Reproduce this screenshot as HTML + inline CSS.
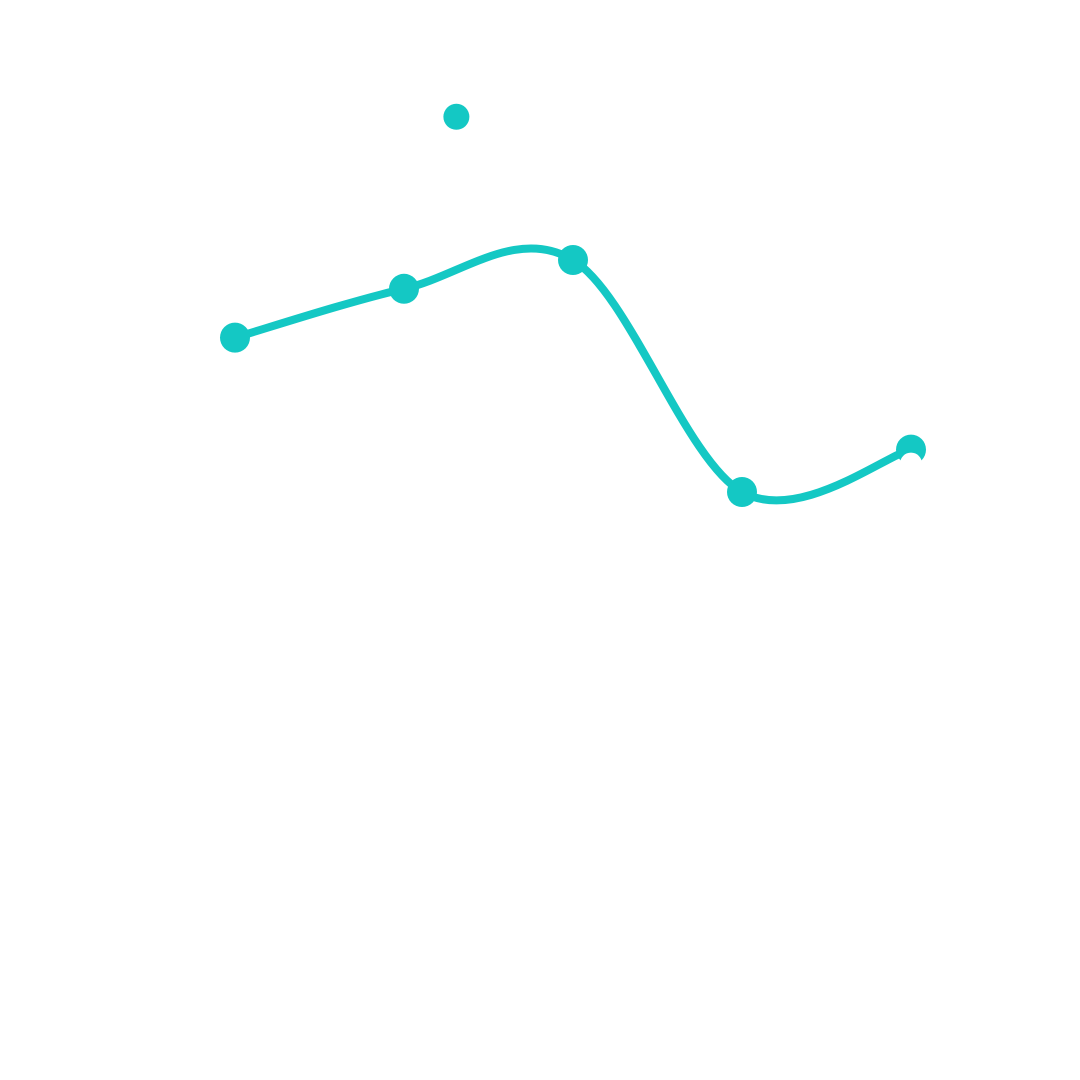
<!DOCTYPE html>
<html><head><meta charset="utf-8"><style>html,body{margin:0;padding:0;background:#fff}svg{display:block}</style></head>
<body>
<svg id="chart" width="1080" height="1080" viewBox="0 0 1080 1080" xmlns="http://www.w3.org/2000/svg">
<g id="plot"></g>
</svg>
<script>
const categories = ["A", "B", "C", "D", "E"];
const seriesValues = [87.8, 93.9, 97.5, 68.5, 73.8];
const outlierValues = [115.4];
const outlierPositions = [1.31];

function xScale(i) { return 235 + i * 169; }
function yScale(v) { return 1040 - v * 8; }

const ns = "http://www.w3.org/2000/svg";
const g = document.getElementById("plot");
const pts = seriesValues.map((v, i) => [xScale(i), yScale(v)]);

let d = "M" + pts[0][0] + "," + pts[0][1];
for (let i = 0; i < pts.length - 1; i++) {
  const p0 = pts[i - 1] || pts[i], p1 = pts[i], p2 = pts[i + 1], p3 = pts[i + 2] || pts[i + 1];
  const c1x = p1[0] + (p2[0] - p0[0]) / 6, c1y = p1[1] + (p2[1] - p0[1]) / 6;
  const c2x = p2[0] - (p3[0] - p1[0]) / 6, c2y = p2[1] - (p3[1] - p1[1]) / 6;
  d += " C" + c1x + "," + c1y + " " + c2x + "," + c2y + " " + p2[0] + "," + p2[1];
}
const path = document.createElementNS(ns, "path");


path.setAttribute("d", d);
path.setAttribute("fill", "none");
path.setAttribute("stroke", "#14c8c4");
path.setAttribute("stroke-width", "8");
g.appendChild(path);

pts.forEach((p, i) => {
  const c = document.createElementNS(ns, "circle");
  
  
  c.setAttribute("cx", p[0]); c.setAttribute("cy", p[1]); c.setAttribute("r", 15);
  c.setAttribute("fill", "#14c8c4");
  g.appendChild(c);
});

outlierValues.forEach((v, i) => {
  const c = document.createElementNS(ns, "circle");
  
  
  c.setAttribute("cx", xScale(outlierPositions[i])); c.setAttribute("cy", yScale(v)); c.setAttribute("r", 13);
  c.setAttribute("fill", "#14c8c4");
  g.appendChild(c);
});

const last = pts[pts.length - 1];
const w = document.createElementNS(ns, "circle");


w.setAttribute("cx", last[0]); w.setAttribute("cy", last[1] + 14); w.setAttribute("r", 11);
w.setAttribute("fill", "#ffffff");
g.appendChild(w);
</script>
</body></html>
